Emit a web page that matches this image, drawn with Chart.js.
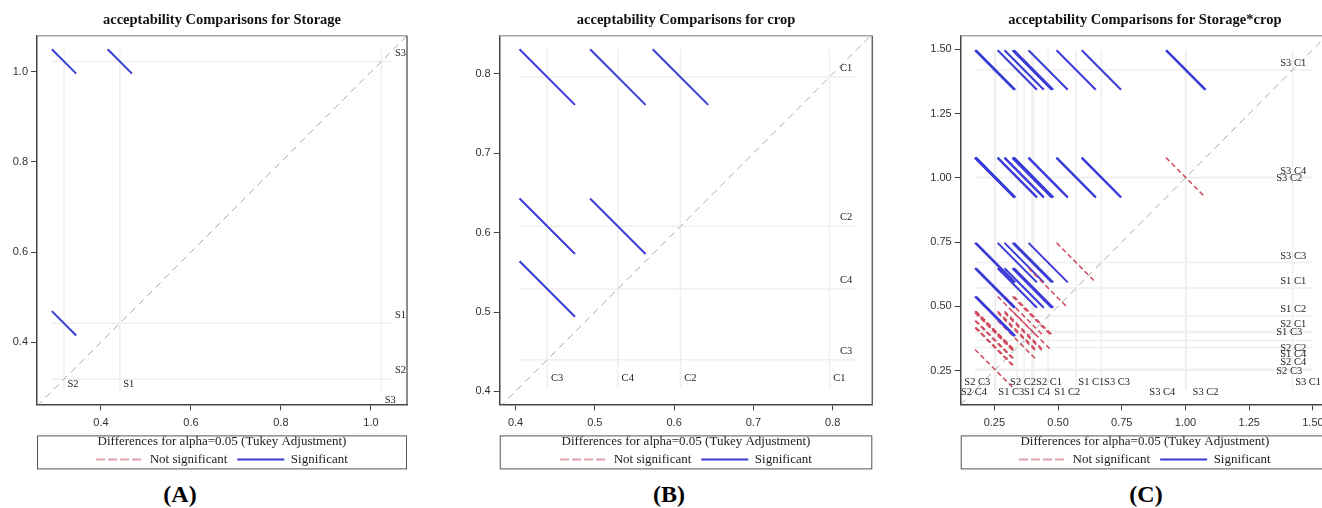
<!DOCTYPE html>
<html>
<head>
<meta charset="utf-8">
<script src="https://cdn.jsdelivr.net/npm/chart.js@4.4.1/dist/chart.umd.min.js"></script>
<style>
  html, body { margin: 0; padding: 0; background: #fff; width: 1322px; height: 508px; overflow: hidden; }
  .panel { position: absolute; top: 0; height: 476px; }
  .cap { position: absolute; top: 480px; font: bold 24px 'Liberation Serif', serif; line-height: 28px; transform: translateX(-50%); }
</style>
</head>
<body>
<div class="panel" style="left:0;width:420px"><canvas id="chartStorage"></canvas></div>
<div class="panel" style="left:440px;width:440px"><canvas id="chartCrop"></canvas></div>
<div class="panel" style="left:900px;width:440px"><canvas id="chartCombo"></canvas></div>
<div class="cap" style="left:180px">(A)</div>
<div class="cap" style="left:669px">(B)</div>
<div class="cap" style="left:1146px">(C)</div>
<script>
// LS-means
const storageNames = ['S1', 'S2', 'S3'];
const storageMeans = [0.442, 0.318, 1.023];
const storageHalf = 0.027;

const cropNames = ['C1', 'C2', 'C3', 'C4'];
const cropMeans = [0.796, 0.608, 0.440, 0.529];
const cropHalf = 0.035;

const comboNames = ['S1 C1', 'S1 C2', 'S1 C3', 'S1 C4', 'S2 C1', 'S2 C2', 'S2 C3', 'S2 C4', 'S3 C1', 'S3 C2', 'S3 C3', 'S3 C4'];
const comboMeans = [0.571, 0.461, 0.398, 0.340, 0.404, 0.367, 0.251, 0.255, 1.420, 1.000, 0.670, 1.002];
const comboHalf = 0.077;

const ticksStorage = [0.4, 0.6, 0.8, 1.0];
const ticksCrop = [0.4, 0.5, 0.6, 0.7, 0.8];
const ticksCombo = [0.25, 0.5, 0.75, 1.0, 1.25, 1.5];

const BLUE = '#3a3ad8';
const RED = '#d04a5c';
const PINK = '#e3a3ab';

Chart.defaults.font.family = "'Liberation Serif', serif";
Chart.defaults.color = '#222';

function buildDatasets(means, half, lo, hi) {
  const ds = [];
  for (let i = 0; i < means.length; i++) {
    for (let j = i + 1; j < means.length; j++) {
      const a = Math.min(means[i], means[j]);
      const b = Math.max(means[i], means[j]);
      const sig = b - a > 2 * half;
      ds.push({
        data: [{x: a - half, y: b + half}, {x: a + half, y: b - half}],
        borderColor: sig ? BLUE : RED,
        borderWidth: sig ? 2 : 1.5,
        borderDash: sig ? [] : [5, 3],
        order: 0
      });
    }
  }
  ds.push({
    data: [{x: lo, y: lo}, {x: hi, y: hi}],
    borderColor: '#a9a9a9', borderWidth: 1, borderDash: [7, 5], order: 1
  });
  const rlo = Math.min(...means) - half, rhi = Math.max(...means) + half;
  means.forEach(m => {
    ds.push({data: [{x: m, y: rlo}, {x: m, y: rhi}], borderColor: '#efefef', borderWidth: 1.5, order: 2});
    ds.push({data: [{x: rlo, y: m}, {x: rhi, y: m}], borderColor: '#efefef', borderWidth: 1.5, order: 2});
  });
  ds.forEach(d => { d.showLine = true; d.pointRadius = 0; d.fill = false; });
  return ds;
}

const diffLabels = {
  id: 'diffLabels',
  afterDatasetsDraw(chart, args, o) {
    const {ctx, scales: {x, y}} = chart;
    const lo = Math.min(...o.means) - o.half, hi = Math.max(...o.means) + o.half;
    ctx.save();
    ctx.font = "10.5px 'Liberation Serif'";
    ctx.fillStyle = '#222';
    ctx.textBaseline = 'middle';
    o.names.forEach((n, i) => {
      const r = o.right[i], b = o.bottom[i];
      ctx.textAlign = 'right';
      ctx.fillText(n, x.getPixelForValue(hi) + r[0], y.getPixelForValue(o.means[i]) + r[1]);
      ctx.textAlign = 'left';
      ctx.fillText(n, x.getPixelForValue(o.means[i]) + b[0], y.getPixelForValue(lo) + b[1]);
    });
    ctx.restore();
  },
  afterDraw(chart) {
    const {ctx, chartArea: a, legend} = chart;
    ctx.save();
    ctx.lineWidth = 1.5;
    ctx.strokeStyle = '#a8a8a8';
    ctx.beginPath(); ctx.moveTo(a.left, a.top); ctx.lineTo(a.right, a.top); ctx.stroke();
    ctx.strokeStyle = '#666';
    ctx.beginPath(); ctx.moveTo(a.right, a.top); ctx.lineTo(a.right, a.bottom); ctx.stroke();
    ctx.lineWidth = 1;
    ctx.strokeStyle = '#555';
    ctx.strokeRect(legend.left + 0.5, legend.top + 0.5, legend.width - 1, 33);
    ctx.restore();
  }
};

function makeChart(id, title, names, means, half, ticks, dec, range, yWidth, padRight, right, bottom) {
  const axis = (pos) => ({
    type: 'linear', position: pos, min: range[pos === 'bottom' ? 0 : 2], max: range[pos === 'bottom' ? 1 : 3],
    afterBuildTicks: s => { s.ticks = ticks.map(v => ({value: v})); },
    afterFit: s => { if (pos === 'left') s.width = yWidth; else s.height = 31; },
    grid: {drawOnChartArea: false, color: '#444', tickLength: 6},
    border: {display: true, color: '#444', width: 1.5},
    ticks: {
      padding: pos === 'left' ? 3 : 6,
      color: '#333',
      font: {family: "'Liberation Sans Narrow', 'Liberation Sans', sans-serif", size: 11},
      callback: v => Number(v).toFixed(dec)
    }
  });
  return new Chart(document.getElementById(id), {
    type: 'scatter',
    data: {datasets: buildDatasets(means, half, Math.min(range[0], range[2]), Math.max(range[1], range[3]))},
    options: {
      responsive: true,
      maintainAspectRatio: false,
      animation: false,
      events: [],
      layout: {padding: {left: 0, right: padRight, top: 0, bottom: 0}},
      scales: {x: axis('bottom'), y: axis('left')},
      plugins: {
        title: {
          display: true, text: title, fullSize: false, color: '#111',
          font: {size: 14.5, weight: 'bold', lineHeight: 1.2}, padding: {top: 11.6, bottom: 6.8}
        },
        legend: {
          display: true, position: 'bottom', fullSize: false,
          title: {display: true, text: 'Differences for alpha=0.05 (Tukey Adjustment)', color: '#222',
                  font: {size: 13, lineHeight: 1.2}, padding: {top: 0, bottom: -8}},
          labels: {
            usePointStyle: true, pointStyleWidth: 47, padding: 10, color: '#222',
            font: {size: 13},
            generateLabels: () => [
              {text: 'Not significant', pointStyle: 'line', strokeStyle: PINK, fillStyle: PINK, lineWidth: 2, lineDash: [9, 3]},
              {text: 'Significant', pointStyle: 'line', strokeStyle: BLUE, fillStyle: BLUE, lineWidth: 2, lineDash: []}
            ]
          }
        },
        tooltip: {enabled: false},
        diffLabels: {names, means, half, right, bottom}
      }
    },
    plugins: [diffLabels]
  });
}

makeChart('chartStorage', 'acceptability Comparisons for Storage',
  storageNames, storageMeans, storageHalf, ticksStorage, 1,
  [0.258, 1.080, 0.262, 1.080], 37, 13,
  [[12.5, -8.5], [12.5, -8.5], [12.5, -8.5]],
  [[3.4, -7], [3.4, -7], [3.3, 8.6]]);

makeChart('chartCrop', 'acceptability Comparisons for crop',
  cropNames, cropMeans, cropHalf, ticksCrop, 1,
  [0.380, 0.850, 0.3836, 0.848], 59.7, 7.7,
  [[-5, -8.8], [-5, -8.8], [-5, -8.8], [-5, -8.8]],
  [[3.8, -9], [3.8, -9], [3.8, -9], [3.8, -9]]);

makeChart('chartCombo', 'acceptability Comparisons for Storage*crop',
  comboNames, comboMeans, comboHalf, ticksCombo, 2,
  [0.118, 1.563, 0.118, 1.553], 60.7, 11,
  [[-6, -6.6], [-6, -7.4], [-10, 0], [-6, 6.8], [-6, -7.1], [-6, 7.4],
   [-10, 0.7], [-6, -7], [-6, -7.1], [-10, 0.2], [-6, -6.7], [-6, -5.9]],
  [[2.2, -7.5], [6.2, 2.2], [-33.7, 2.2], [6.8, 2.2], [2.5, -7.5], [-14.1, -7.5],
   [-30.3, -7.5], [-34.6, 2.2], [2.6, -7.5], [7.1, 2.2], [2.7, -7.5], [-36.7, 2.2]]);
</script>
</body>
</html>
